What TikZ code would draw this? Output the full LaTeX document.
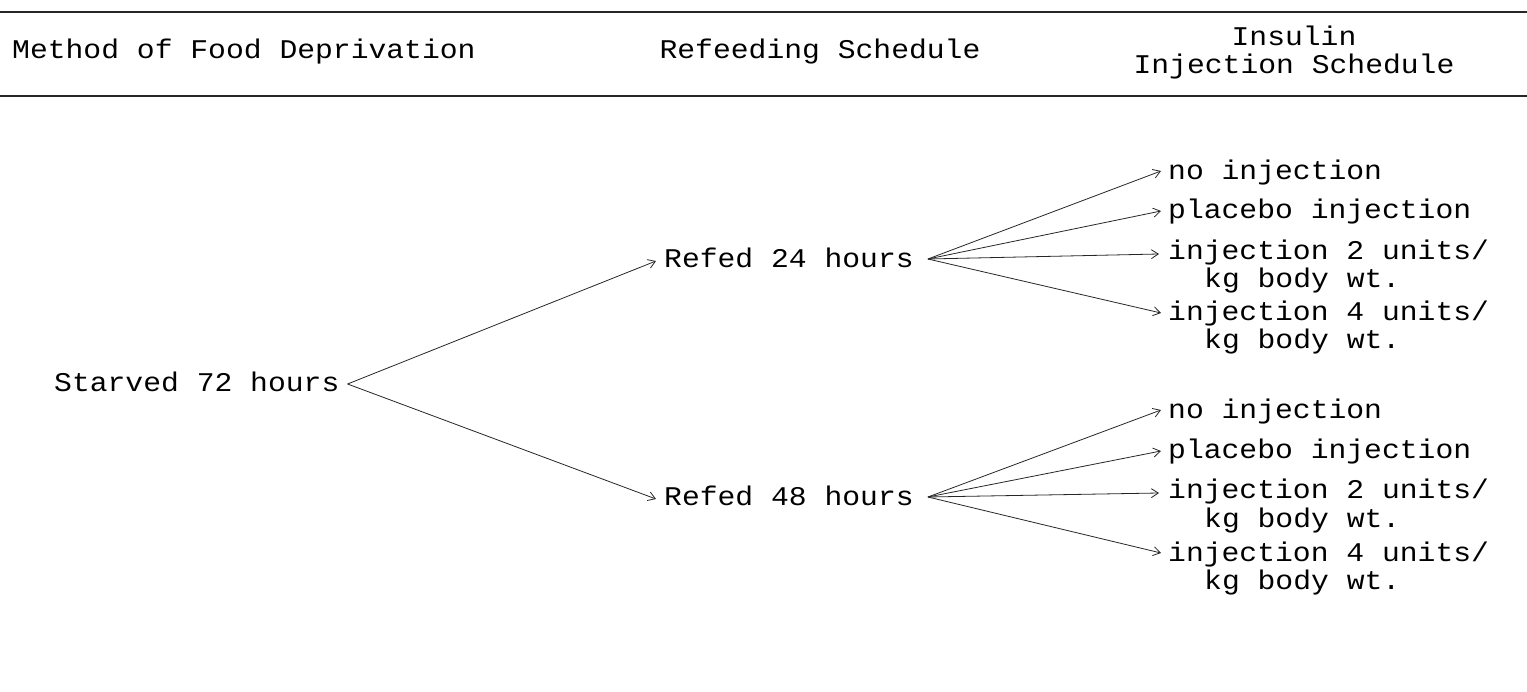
\documentclass[tikz,border=0pt]{standalone}
\usepackage{fontspec}
\newfontfamily\tw[FakeStretch=1.1]{Liberation Mono}
\usetikzlibrary{arrows.meta}
\begin{document}
\begin{tikzpicture}[x=1pt,y=-1pt,
  txt/.style={font=\tw\fontsize{27}{31}\selectfont, inner sep=0pt, anchor=base west},
  hd/.style={txt, anchor=base},
  conn/.style={line width=0.8pt, black!85, -{Straight Barb[length=7pt,width=9pt,line width=0.8pt]}},
  rulestyle/.style={line width=2.5pt, black!85}]
\useasboundingbox (0,0) rectangle (1527,692);
% rules
\draw[rulestyle] (0,12) -- (1527,12);
\draw[rulestyle] (0,96) -- (1527,96);
% header
\node[txt] (h1) at (12,59) {Method of Food Deprivation};
\node[hd] (h2) at (820,59) {Refeeding Schedule};
\node[hd] (h3a) at (1294,46) {Insulin};
\node[hd] (h3b) at (1294,74) {Injection Schedule};
% tree
\node[txt] (sv) at (54,392) {Starved 72 hours};
\node[txt] (r24) at (664,268) {Refed 24 hours};
\node[txt] (r48) at (664,505) {Refed 48 hours};
% upper group
\node[txt] (u1) at (1168,180) {no injection};
\node[txt] (u2) at (1168,219) {placebo injection};
\node[txt] (u3) at (1168,260) {injection 2 units/};
\node[txt] (u3k) at (1204,288) {kg body wt.};
\node[txt] (u4) at (1168,321) {injection 4 units/};
\node[txt] (u4k) at (1204,349) {kg body wt.};
% lower group
\node[txt] (l1) at (1168,419) {no injection};
\node[txt] (l2) at (1168,459) {placebo injection};
\node[txt] (l3) at (1168,499) {injection 2 units/};
\node[txt] (l3k) at (1204,527) {kg body wt.};
\node[txt] (l4) at (1168,561) {injection 4 units/};
\node[txt] (l4k) at (1204,589) {kg body wt.};
% connectors
\draw[conn] ([xshift=8pt,yshift=8pt]sv.base east) -- ([xshift=-8pt,yshift=7pt]r24.base west);
\draw[conn] ([xshift=8pt,yshift=8pt]sv.base east) -- ([xshift=-8pt,yshift=6pt]r48.base west);
\draw[conn] ([xshift=14pt,yshift=9pt]r24.base east) -- ([xshift=-7pt,yshift=9pt]u1.base west);
\draw[conn] ([xshift=14pt,yshift=9pt]r24.base east) -- ([xshift=-7pt,yshift=8pt]u2.base west);
\draw[conn] ([xshift=14pt,yshift=9pt]r24.base east) -- ([xshift=-9pt,yshift=6pt]u3.base west);
\draw[conn] ([xshift=14pt,yshift=9pt]r24.base east) -- ([xshift=-7pt,yshift=8pt]u4.base west);
\draw[conn] ([xshift=14pt,yshift=8pt]r48.base east) -- ([xshift=-7pt,yshift=9pt]l1.base west);
\draw[conn] ([xshift=14pt,yshift=8pt]r48.base east) -- ([xshift=-7pt,yshift=8pt]l2.base west);
\draw[conn] ([xshift=14pt,yshift=8pt]r48.base east) -- ([xshift=-9pt,yshift=6pt]l3.base west);
\draw[conn] ([xshift=14pt,yshift=8pt]r48.base east) -- ([xshift=-7pt,yshift=8pt]l4.base west);
\end{tikzpicture}
\end{document}
